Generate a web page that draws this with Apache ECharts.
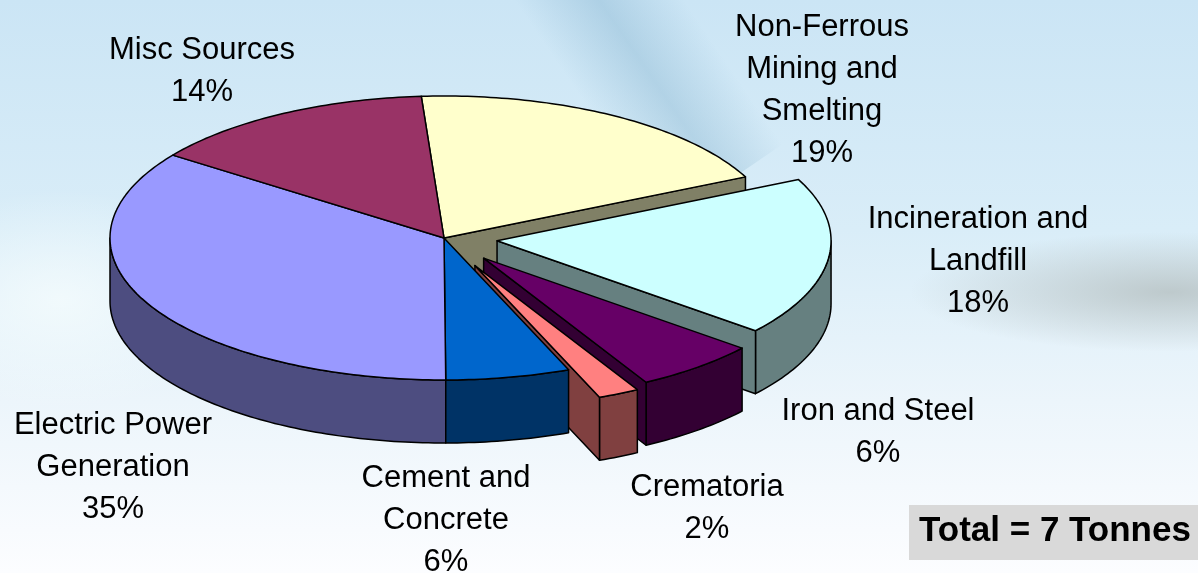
<!DOCTYPE html>
<html>
<head>
<meta charset="utf-8">
<title>Emission sources</title>
<script src="https://cdn.jsdelivr.net/npm/echarts@6/dist/echarts.min.js"></script>
<style>
  html, body { margin: 0; padding: 0; }
  #chart { width: 1198px; height: 573px; }
</style>
</head>
<body>
<div id="chart"></div>
<script>
// data, clockwise from the top
const categories = [
  'Non-Ferrous\nMining and\nSmelting',
  'Incineration and\nLandfill',
  'Iron and Steel',
  'Crematoria',
  'Cement and\nConcrete',
  'Electric Power\nGeneration',
  'Misc Sources'
];
const shares = [19, 18, 6, 2, 6, 35, 14];
const totalLabel = 'Total = 7 Tonnes';

// look of the slices
const topColors = ['#FFFFCC', '#CCFFFF', '#660066', '#FF8080', '#0066CC', '#9999FF', '#993366'];
const sideColors = ['#808066', '#668080', '#330033', '#804040', '#003366', '#4D4D80', '#4D1A33'];
const explode = [0, 0.16, 0.185, 0.215, 0, 0, 0];
const labelAt = [[822, 90], [978, 261], [878, 432], [707, 508], [446, 520], [113, 467], [202, 71]];

// tilted pie geometry
const CX = 444, CY = 238, RX = 334, RY = 142, DEPTH = 63;
const START = -3.9 * Math.PI / 180;
const FONT = '"Liberation Sans", Arial, sans-serif';

const sum = shares.reduce((a, b) => a + b, 0);
const slices = [];
let acc = START;
shares.forEach(v => {
  const a0 = acc;
  acc += v / sum * Math.PI * 2;
  slices.push({a0: a0, a1: acc, mid: (a0 + acc) / 2});
});

function point(i, th, r, drop) {
  const s = slices[i];
  const e = explode[i];
  return [
    CX + RX * (r * Math.sin(th) + e * Math.sin(s.mid)),
    CY - RY * (r * Math.cos(th) + e * Math.cos(s.mid)) + drop
  ];
}

function arc(i, from, to, drop) {
  const n = Math.max(2, Math.ceil(Math.abs(to - from) / (Math.PI / 180)));
  const pts = [];
  for (let k = 0; k <= n; k++) {
    pts.push(point(i, from + (to - from) * k / n, 1, drop));
  }
  return pts;
}

function poly(points, fill, z2) {
  return {
    type: 'polygon',
    z2: z2,
    shape: {points: points},
    style: {fill: fill, stroke: '#000', lineWidth: 1.5, lineJoin: 'round'}
  };
}

function renderSlice(params, api) {
  const i = params.dataIndex;
  const n = slices.length;
  const s = slices[i];
  // walls nearer the front are painted later
  const rank = 10 - 10 * Math.cos(s.mid);
  const children = [];

  const lo = Math.max(s.a0, Math.PI / 2);
  const hi = Math.min(s.a1, Math.PI * 1.5);
  if (lo < hi) {
    children.push(poly(arc(i, lo, hi, 0).concat(arc(i, hi, lo, DEPTH)), sideColors[i], rank));
  }

  const face = th => [point(i, th, 0, 0), point(i, th, 1, 0), point(i, th, 1, DEPTH), point(i, th, 0, DEPTH)];
  const prevOpen = explode[i] > 0 || explode[(i - 1 + n) % n] > 0;
  const nextOpen = explode[i] > 0 || explode[(i + 1) % n] > 0;
  if (prevOpen && Math.sin(s.a0) < 0) children.push(poly(face(s.a0), sideColors[i], rank));
  if (nextOpen && Math.sin(s.a1) > 0) children.push(poly(face(s.a1), sideColors[i], rank));

  children.push(poly([point(i, 0, 0, 0)].concat(arc(i, s.a0, s.a1, 0)), topColors[i], 100));

  children.push({
    type: 'text',
    z2: 200,
    x: labelAt[i][0],
    y: labelAt[i][1],
    style: {
      text: categories[i] + '\n' + api.value(0) + '%',
      fill: '#000',
      font: '31px ' + FONT,
      align: 'center',
      verticalAlign: 'middle',
      lineHeight: 42
    }
  });
  return {type: 'group', children: children};
}

const chart = echarts.init(document.getElementById('chart'));
const option = {
  animation: false,
  graphic: [
    {
      type: 'rect', z: -10, silent: true,
      shape: {x: 0, y: 0, width: 1198, height: 573},
      style: {
        fill: new echarts.graphic.LinearGradient(0, 0, 0, 1, [
          {offset: 0, color: '#cbe5f5'},
          {offset: 0.4, color: '#d9edf8'},
          {offset: 0.7, color: '#ecf5fb'},
          {offset: 1, color: '#fcfdff'}
        ])
      }
    },
    {
      // soft darker streak near the top
      type: 'rect', z: -9, silent: true,
      x: 640, y: 60, rotation: 0.6,
      shape: {x: -70, y: -150, width: 140, height: 300},
      style: {
        fill: new echarts.graphic.LinearGradient(0, 0, 1, 0, [
          {offset: 0, color: 'rgba(120,170,200,0)'},
          {offset: 0.5, color: 'rgba(120,170,200,0.35)'},
          {offset: 1, color: 'rgba(120,170,200,0)'}
        ])
      }
    },
    {
      // grey band on the right
      type: 'circle', z: -9, silent: true,
      x: 1170, y: 292, scaleX: 2.6, scaleY: 0.6,
      shape: {cx: 0, cy: 0, r: 100},
      style: {
        fill: new echarts.graphic.RadialGradient(0.5, 0.5, 0.5, [
          {offset: 0, color: 'rgba(175,185,185,0.7)'},
          {offset: 1, color: 'rgba(175,185,185,0)'}
        ])
      }
    },
    {
      // pale glow on the left
      type: 'circle', z: -9, silent: true,
      x: 60, y: 300, scaleX: 1.6, scaleY: 1,
      shape: {cx: 0, cy: 0, r: 110},
      style: {
        fill: new echarts.graphic.RadialGradient(0.5, 0.5, 0.5, [
          {offset: 0, color: 'rgba(245,252,253,0.8)'},
          {offset: 1, color: 'rgba(245,252,253,0)'}
        ])
      }
    },
    {
      type: 'rect', z: 10, silent: true,
      shape: {x: 909, y: 505, width: 289, height: 55},
      style: {fill: '#d9d9d9'}
    },
    {
      type: 'text', z: 11, silent: true,
      x: 919, y: 531,
      style: {
        text: totalLabel,
        fill: '#000',
        font: 'bold 35px ' + FONT,
        align: 'left',
        verticalAlign: 'middle'
      }
    }
  ],
  series: [
    {
      type: 'custom',
      coordinateSystem: 'none',
      silent: true,
      data: shares.map((v, i) => ({value: v, name: categories[i]})),
      renderItem: renderSlice
    }
  ]
};
chart.setOption(option);

window.addEventListener('resize', () => {
  chart.resize();
});
</script>
</body>
</html>
